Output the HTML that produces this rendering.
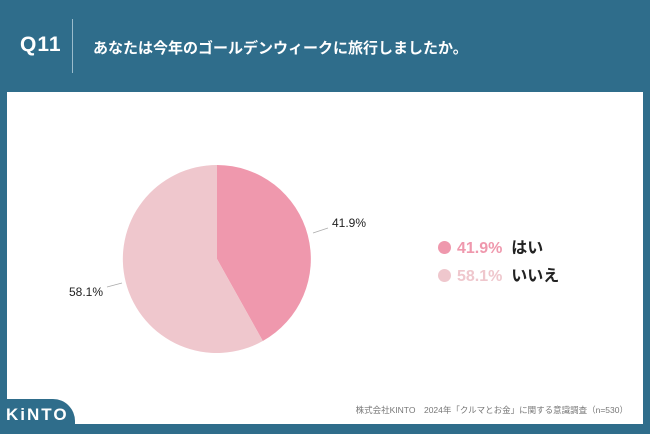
<!DOCTYPE html>
<html><head><meta charset="utf-8"><style>
body{margin:0;width:650px;height:434px;background:#2f6d8b;position:relative;overflow:hidden;font-family:"Liberation Sans","Noto Sans CJK JP",sans-serif}
.panel{position:absolute;left:7px;top:92px;width:636px;height:332px;background:#fff}
.q{position:absolute;left:20px;top:33px;color:#fff;font-size:21px;font-weight:bold;letter-spacing:1px}
.bar{position:absolute;left:72px;top:19px;width:1px;height:54px;background:#9bbccc}
.t{position:absolute;left:93px;top:37px;color:#fff;font-size:15px;font-weight:bold}
.tab{position:absolute;left:0;top:399px;width:75px;height:35px;background:#2f6d8b;border-top-right-radius:22px}
.kinto{position:absolute;left:6px;top:405px;color:#fff;font-size:17px;font-weight:bold;letter-spacing:2px}
.src{position:absolute;right:22px;top:404px;font-size:8.5px;color:#777;white-space:nowrap}
.leg{position:absolute;left:438px;font-size:16px;font-weight:bold}
.dot{display:inline-block;width:13px;height:13px;border-radius:50%;vertical-align:-1px;margin-right:6px}
.lbl{position:absolute;font-size:12px;color:#222}
</style></head><body>
<div class="q">Q11</div><div class="bar"></div>
<div class="t">あなたは今年のゴールデンウィークに旅行しましたか。</div>
<div class="panel"></div>
<svg style="position:absolute;left:0;top:0" width="650" height="434">
<path d="M217,259 L217,165 A94,94 0 0 1 262.8,341 Z" fill="#ef98ad"/>
<path d="M217,259 L262.8,341 A94,94 0 1 1 217,165 Z" fill="#efc7cd"/>
<line x1="313" y1="233" x2="328" y2="228" stroke="#aaa" stroke-width="0.8"/>
<line x1="107" y1="287" x2="122" y2="283" stroke="#aaa" stroke-width="0.8"/>
</svg>
<div class="lbl" style="left:332px;top:216px">41.9%</div>
<div class="lbl" style="left:69px;top:285px">58.1%</div>
<div class="leg" style="top:234px"><span class="dot" style="background:#ef98ad"></span><span style="color:#ef98ad">41.9%</span>&nbsp;&nbsp;<span style="color:#222">はい</span></div>
<div class="leg" style="top:262px"><span class="dot" style="background:#efc7cd"></span><span style="color:#efc7cd">58.1%</span>&nbsp;&nbsp;<span style="color:#222">いいえ</span></div>
<div class="tab"></div><div class="kinto">KiNTO</div>
<div class="src">株式会社KINTO　2024年「クルマとお金」に関する意識調査（n=530）</div>
</body></html>
